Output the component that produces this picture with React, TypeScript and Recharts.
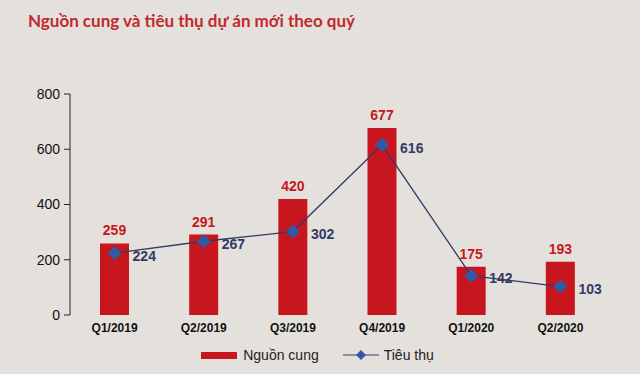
import { ComposedChart, Bar, Line, XAxis, YAxis, LabelList, Legend } from 'recharts';

const quarters = ['Q1/2019', 'Q2/2019', 'Q3/2019', 'Q4/2019', 'Q1/2020', 'Q2/2020'];
const supply = [259, 291, 420, 677, 175, 193];
const sold = [224, 267, 302, 616, 142, 103];
const yTicks = [0, 200, 400, 600, 800];
const boundaryTicks = [1, 2, 3, 4, 5, 6];

const data = quarters.map((q, i) => ({ quarter: q, supply: supply[i], sold: sold[i] }));

const RED = '#c8161f';
const NAVY = '#333a66';

const Diamond = (props: any) => {
    const { cx, cy } = props;
    if (cx == null || cy == null) return null;
    const r = 7;
    return (
        <path
            d={`M${cx},${cy - r} L${cx + r},${cy} L${cx},${cy + r} L${cx - r},${cy} Z`}
            fill="#2f5aa6"
        />
    );
};

const SoldLabel = (props: any) => {
    const { x, y, value } = props;
    return (
        <text x={x + 18} y={y + 4} fill={NAVY} fontSize={14} fontWeight={700} textAnchor="start" dominantBaseline="middle">
            {value}
        </text>
    );
};

const LegendContent = () => (
    <div style={{ display: 'flex', justifyContent: 'center', alignItems: 'center', gap: 24, fontSize: 14, color: '#222', paddingLeft: 0 }}>
        <div style={{ display: 'flex', alignItems: 'center', gap: 6 }}>
            <span style={{ display: 'inline-block', width: 36, height: 7, background: RED }} />
            <span>Nguồn cung</span>
        </div>
        <div style={{ display: 'flex', alignItems: 'center', gap: 5 }}>
            <svg width={36} height={12}>
                <line x1={0} y1={6} x2={36} y2={6} stroke={NAVY} strokeWidth={1.2} />
                <path d="M18,1 L23,6 L18,11 L13,6 Z" fill="#2f5aa6" />
            </svg>
            <span>Tiêu thụ</span>
        </div>
    </div>
);

export default function App() {
    return (
        <div
            style={{
                position: 'absolute',
                left: 0,
                top: 0,
                width: 640,
                height: 374,
                background: '#e4e1dc',
                fontFamily: '"Liberation Sans", Arial, sans-serif',
                overflow: 'hidden',
            }}
        >
            <div
                style={{
                    position: 'absolute',
                    left: 28,
                    top: 10,
                    fontFamily: 'Lato, "Open Sans", sans-serif',
                    fontWeight: 700,
                    fontSize: 17,
                    color: '#c2282f',
                }}
            >
                Nguồn cung và tiêu thụ dự án mới theo quý
            </div>
            <ComposedChart width={640} height={374} data={data} margin={{ top: 94, right: 35, bottom: 2, left: 30 }}>
                <XAxis
                    xAxisId="bounds"
                    type="number"
                    domain={[0, 6]}
                    ticks={boundaryTicks}
                    tick={false}
                    height={0}
                    axisLine={{ stroke: '#222' }}
                    tickLine={{ stroke: '#222' }}
                    tickSize={6}
                />
                <XAxis
                    dataKey="quarter"
                    axisLine={false}
                    tickLine={false}
                    height={32}
                    tick={{ fill: '#111', fontSize: 12, fontWeight: 700 }}
                    tickMargin={2}
                />
                <YAxis
                    domain={[0, 800]}
                    ticks={yTicks}
                    width={40}
                    axisLine={{ stroke: '#222' }}
                    tickLine={{ stroke: '#222' }}
                    tick={{ fill: '#111', fontSize: 14 }}
                    tickMargin={4}
                />
                <Legend verticalAlign="bottom" height={25} content={<LegendContent />} />
                <Bar dataKey="supply" name="Nguồn cung" fill={RED} barSize={29} isAnimationActive={false}>
                    <LabelList dataKey="supply" position="top" offset={8} fill={RED} fontSize={14} fontWeight={700} />
                </Bar>
                <Line
                    dataKey="sold"
                    name="Tiêu thụ"
                    type="linear"
                    stroke={NAVY}
                    strokeWidth={1.3}
                    dot={<Diamond />}
                    activeDot={false}
                    isAnimationActive={false}
                >
                    <LabelList dataKey="sold" content={<SoldLabel />} />
                </Line>
            </ComposedChart>
        </div>
    );
}
